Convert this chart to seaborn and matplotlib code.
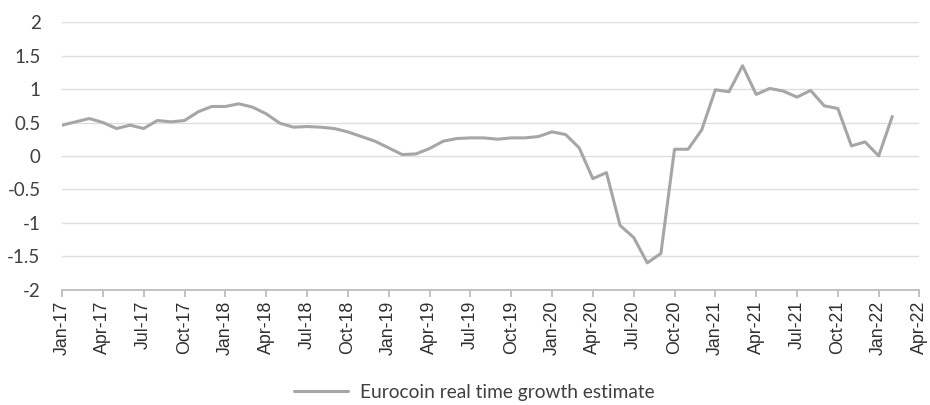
import matplotlib
matplotlib.use("Agg")
import matplotlib.pyplot as plt
import numpy as np
import pandas as pd
import seaborn as sns

# Monthly Eurocoin real time growth estimate, Jan 2017 - Feb 2022
months = pd.date_range("2017-01-01", "2022-02-01", freq="MS")
growth = [
    0.46, 0.51, 0.56, 0.50, 0.41, 0.46, 0.41, 0.53, 0.51, 0.53, 0.66, 0.74,
    0.74, 0.78, 0.73, 0.63, 0.49, 0.43, 0.44, 0.43, 0.41, 0.36, 0.29, 0.22,
    0.12, 0.02, 0.03, 0.11, 0.22, 0.26, 0.27, 0.27, 0.25, 0.27, 0.27, 0.29,
    0.36, 0.32, 0.12, -0.34, -0.25, -1.04, -1.22, -1.60, -1.46, 0.10, 0.10, 0.39,
    0.99, 0.96, 1.35, 0.92, 1.01, 0.97, 0.88, 0.98, 0.75, 0.71, 0.15, 0.21,
    0.00, 0.59,
]
tick_labels = [
    "Jan-17", "Apr-17", "Jul-17", "Oct-17", "Jan-18", "Apr-18", "Jul-18", "Oct-18",
    "Jan-19", "Apr-19", "Jul-19", "Oct-19", "Jan-20", "Apr-20", "Jul-20", "Oct-20",
    "Jan-21", "Apr-21", "Jul-21", "Oct-21", "Jan-22", "Apr-22",
]
y_ticks = [-2, -1.5, -1, -0.5, 0, 0.5, 1, 1.5, 2]
series_name = "Eurocoin real time growth estimate"

df = pd.DataFrame({
    "month_idx": np.arange(len(months)),
    "value": growth,
    "series": series_name,
})

sns.set_style("white")
plt.rcParams["font.family"] = ["Lato", "DejaVu Sans"]

fig = plt.figure(figsize=(9.3, 4.05), dpi=100)
ax = fig.add_axes([0.0667, 0.285, 0.922, 0.66])

sns.lineplot(data=df, x="month_idx", y="value", hue="series",
             palette=["#a6a6a6"], linewidth=2.2, ax=ax, legend=True)

ax.set_xlim(0, 63)
ax.set_ylim(-2, 2)
ax.set_xticks(np.arange(0, 64, 3))
ax.set_xticklabels(tick_labels, rotation=90, fontsize=12.8,
                   family=["Liberation Sans", "DejaVu Sans"], color="#303030")
ax.set_yticks(y_ticks)
ax.set_yticklabels([f"{t:g}" for t in y_ticks], fontsize=13.5, color="#404040")
ax.set_xlabel("")
ax.set_ylabel("")

ax.yaxis.grid(True, color="#dedede", linewidth=1.0)
ax.set_axisbelow(True)
for side in ("top", "right", "left"):
    ax.spines[side].set_visible(False)
ax.spines["bottom"].set_color("#b8b8b8")
ax.spines["bottom"].set_linewidth(1.2)
ax.tick_params(axis="x", bottom=True, length=5, width=1.2, color="#b8b8b8", pad=3)
ax.tick_params(axis="y", left=False, pad=12)

handles, labels = ax.get_legend_handles_labels()
ax.get_legend().remove()
leg = fig.legend(handles, labels, loc="center", bbox_to_anchor=(0.51, 0.032),
                 frameon=False, fontsize=13.8, handlelength=2.8, handletextpad=0.6)
for t in leg.get_texts():
    t.set_color("#404040")

fig.savefig("out.png", dpi=100, facecolor="white")
